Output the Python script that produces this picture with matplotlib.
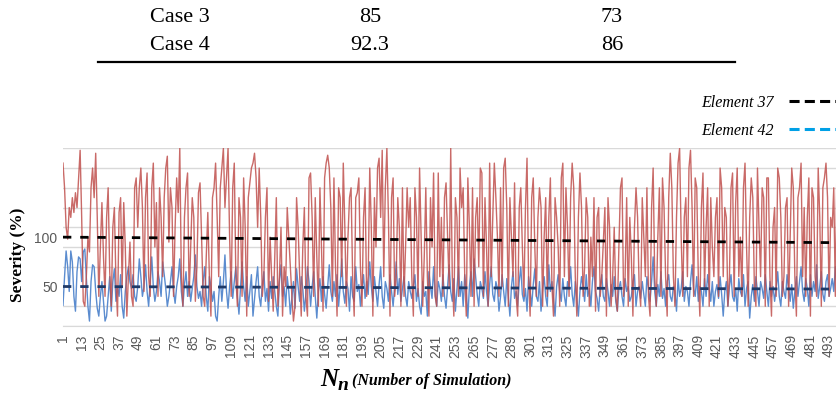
import numpy as np
import matplotlib
matplotlib.use("Agg")
import matplotlib.pyplot as plt
from matplotlib.lines import Line2D

# ---------------- data ----------------
table_rows = ["Case 3", "Case 4"]
table_col1 = ["85", "92.3"]
table_col2 = ["73", "86"]

severity_red = [
    175,150,110,98,130,120,140,125,145,130,160,188,120,35,30,60,100,85,150,170,140,185,120,40,90,
    135,80,40,120,150,65,30,110,130,55,20,125,140,50,135,90,20,60,95,40,30,150,160,110,150,
    170,130,45,140,165,60,40,150,175,90,135,40,150,120,60,140,170,182,95,150,130,40,110,160,125,
    190,60,30,120,150,165,40,90,140,120,35,70,145,155,100,40,30,80,125,60,20,140,150,175,120,
    60,150,170,190,130,160,190,100,40,150,175,60,30,140,120,40,160,110,20,140,155,170,175,185,160,
    110,170,120,40,60,120,150,35,100,60,25,80,140,30,60,110,20,70,50,130,100,70,40,15,30,
    140,110,60,20,90,130,40,20,160,165,120,40,140,80,30,150,90,25,160,175,183,170,130,40,160,
    70,20,150,140,60,175,110,30,100,140,150,60,20,140,145,160,70,30,120,150,40,60,170,110,20,
    140,90,170,180,120,188,60,150,190,120,20,140,160,40,60,140,110,30,150,40,90,150,110,140,60,
    20,150,120,40,170,100,30,80,150,60,20,140,90,165,40,30,165,60,120,40,140,155,100,50,190,
    60,20,140,120,40,170,130,150,60,20,160,110,40,150,30,120,140,70,170,165,40,140,90,30,175,
    60,120,175,140,100,40,150,50,170,180,130,30,140,100,60,155,40,20,130,150,90,40,130,180,60,
    20,140,160,90,40,120,150,130,30,100,140,40,120,160,50,20,140,120,90,30,160,175,60,150,110,
    40,140,175,150,60,20,120,165,130,40,70,140,120,30,100,60,140,25,120,130,40,60,95,130,20,
    140,110,30,60,110,40,25,90,150,160,40,60,140,30,120,80,20,110,150,120,50,30,140,100,60,
    150,40,20,130,170,60,30,100,150,40,160,130,60,20,140,185,150,60,30,120,175,190,100,40,120,
    140,60,170,188,130,40,160,150,60,20,130,165,50,110,150,30,140,90,60,120,140,40,170,150,60,
    130,120,30,60,150,165,40,135,170,60,100,40,150,175,90,30,120,160,140,50,30,170,110,60,150,
    140,30,160,160,60,20,110,130,40,170,160,120,40,60,130,140,30,100,170,150,60,20,140,150,175,
    60,130,40,120,160,20,150,140,60,40,170,120,30,150,160,175,140,40,120,110,150,40,170,120,90,
]

severity_blue = [
    31,60,86,70,45,86,75,40,25,65,80,78,55,85,88,60,30,15,55,72,70,45,28,20,40,
    55,35,15,20,40,60,25,55,68,35,50,40,62,30,18,45,60,70,55,48,62,40,35,50,78,
    60,40,50,72,45,30,55,80,50,35,45,65,55,40,75,62,48,30,40,55,70,45,33,50,60,
    78,45,30,52,65,40,55,35,48,60,82,50,38,45,30,55,70,40,25,60,50,35,45,20,15,
    40,60,35,55,82,45,28,50,65,38,55,70,40,22,48,75,50,35,60,30,45,62,20,38,55,
    70,40,30,52,65,35,48,25,55,38,60,45,30,20,55,72,40,50,30,60,45,22,38,55,28,
    68,50,35,60,48,25,42,70,55,30,50,65,40,18,45,58,35,60,42,28,50,72,45,35,55,
    40,62,30,50,78,45,33,55,48,25,60,40,35,70,45,52,30,48,62,38,55,42,75,50,35,
    60,45,30,52,70,40,28,55,48,35,62,45,30,50,75,42,58,35,48,60,40,30,55,45,38,
    50,62,35,48,30,22,55,40,45,20,65,50,38,70,42,30,55,48,35,62,40,28,50,72,45,
    35,58,25,48,70,40,55,30,62,45,18,50,65,40,78,60,42,30,55,48,38,65,45,30,52,
    70,42,35,55,48,25,40,62,45,30,58,40,20,50,65,38,45,30,55,70,42,35,48,25,60,
    45,30,52,68,40,35,55,25,48,60,40,30,72,45,55,38,20,50,62,45,35,58,40,30,55,
    48,70,42,30,55,38,20,45,60,50,35,62,40,48,30,55,70,45,38,25,50,62,40,35,58,
    45,30,52,40,60,35,25,48,55,40,30,58,45,50,35,40,55,62,30,45,50,38,55,42,30,
    60,48,35,55,80,45,30,52,40,65,38,48,30,55,62,40,35,50,45,25,58,40,48,65,35,
    50,45,30,55,72,48,40,60,35,50,45,30,58,40,62,48,35,55,30,45,52,38,60,42,20,
    45,55,30,50,62,40,35,48,25,58,45,40,62,30,48,55,18,40,52,35,60,45,30,55,48,
    38,62,45,30,55,40,50,35,48,65,40,30,55,45,38,62,48,35,52,28,45,60,40,55,70,
    45,35,58,48,30,62,40,55,45,72,38,50,65,42,35,55,62,40,48,58,45,70,52,40,55,
]

n_sim = list(range(1, len(severity_red) + 1))
x_tick_values = list(range(1, 500, 12))
x_tick_labels = [str(v) for v in x_tick_values]
y_tick_values = [50, 100]
y_tick_labels = ["50", "100"]
grid_values = list(range(10, 191, 20))
element37_level = [100, 94.4]   # start / end of dashed level line
element42_level = [50, 47.4]
legend_labels = ["Element 37", "Element 42"]

# ---------------- figure ----------------
W, H = 836, 394
fig = plt.figure(figsize=(W / 100, H / 100), dpi=100)
fig.patch.set_facecolor("white")

def fx(px):
    return px / W

def fy(py):
    return (H - py) / H

serif = ["Liberation Serif", "DejaVu Serif"]

# top table fragment
row_y = [17, 46]
for ry, a, b, c in zip(row_y, table_rows, table_col1, table_col2):
    fig.text(fx(180), fy(ry), a, ha="center", va="center", family=serif, fontsize=16)
    fig.text(fx(370), fy(ry), b, ha="center", va="center", family=serif, fontsize=16)
    fig.text(fx(612), fy(ry), c, ha="center", va="center", family=serif, fontsize=16)
fig.add_artist(Line2D([fx(98), fx(735)], [fy(62), fy(62)], color="black", lw=1.6))

# chart axes (extends past right edge, as in the cropped reference)
ax = fig.add_axes([fx(63), fy(326), (840 - 63) / W, (326 - 148.3) / H])
ax.set_facecolor("white")

ax.plot(n_sim, severity_blue, color="#5b8ccf", lw=1.0, zorder=2)
ax.plot(n_sim, severity_red, color="#c0504d", lw=1.0, alpha=0.85, zorder=3)
ax.plot([n_sim[0], n_sim[-1]], element37_level, color="black", lw=2.0,
        dashes=(3, 3.2), zorder=4)
ax.plot([n_sim[0], n_sim[-1]], element42_level, color="#1f3a68", lw=2.0,
        dashes=(3, 3.2), zorder=4)

ax.set_xlim(1, n_sim[-1])
ax.set_ylim(grid_values[0], grid_values[-1])
ax.set_yticks(y_tick_values)
ax.set_yticklabels(y_tick_labels, color="#595959", fontsize=10,
                   family=["Liberation Sans", "DejaVu Sans"])
ax.set_yticks(grid_values, minor=True)
ax.grid(which="minor", axis="y", color="#d9d9d9", lw=1.0, zorder=0)
ax.set_axisbelow(True)
ax.tick_params(axis="y", which="both", length=0, pad=4)

ax.set_xticks(x_tick_values)
ax.set_xticklabels(x_tick_labels, rotation=90, color="#595959", fontsize=10,
                   family=["Liberation Sans", "DejaVu Sans"])
ax.tick_params(axis="x", length=0, pad=6)

for s in ["top", "right", "left"]:
    ax.spines[s].set_visible(False)
ax.spines["bottom"].set_color("#d9d9d9")

# y label
fig.text(fx(18), fy(255), "Severity (%)", rotation=90, ha="center", va="center",
         family=serif, fontweight="bold", fontsize=12.5)

# x label
fig.text(fx(329), fy(380), "N", ha="center", va="center", family=serif,
         fontweight="bold", style="italic", fontsize=18)
fig.text(fx(343), fy(386), "n", ha="center", va="center", family=serif,
         fontweight="bold", style="italic", fontsize=14)
fig.text(fx(352), fy(381), "(Number of Simulation)", ha="left", va="center",
         family=serif, fontweight="bold", style="italic", fontsize=11.5)

# legend (cropped at right edge)
handles = [Line2D([], [], color="black", lw=2.2, dashes=(3.3, 1.7)),
           Line2D([], [], color="#00a0e6", lw=2.2, dashes=(3.3, 1.7))]
fig.legend(handles, legend_labels, loc="upper right", bbox_to_anchor=(fx(885), fy(95)),
           markerfirst=False, frameon=False, handlelength=6.0, handletextpad=0.95,
           labelspacing=0.75, borderaxespad=0, borderpad=0,
           prop={"family": serif, "style": "italic", "size": 11.5})

fig.savefig("out.png", dpi=100, facecolor="white")
